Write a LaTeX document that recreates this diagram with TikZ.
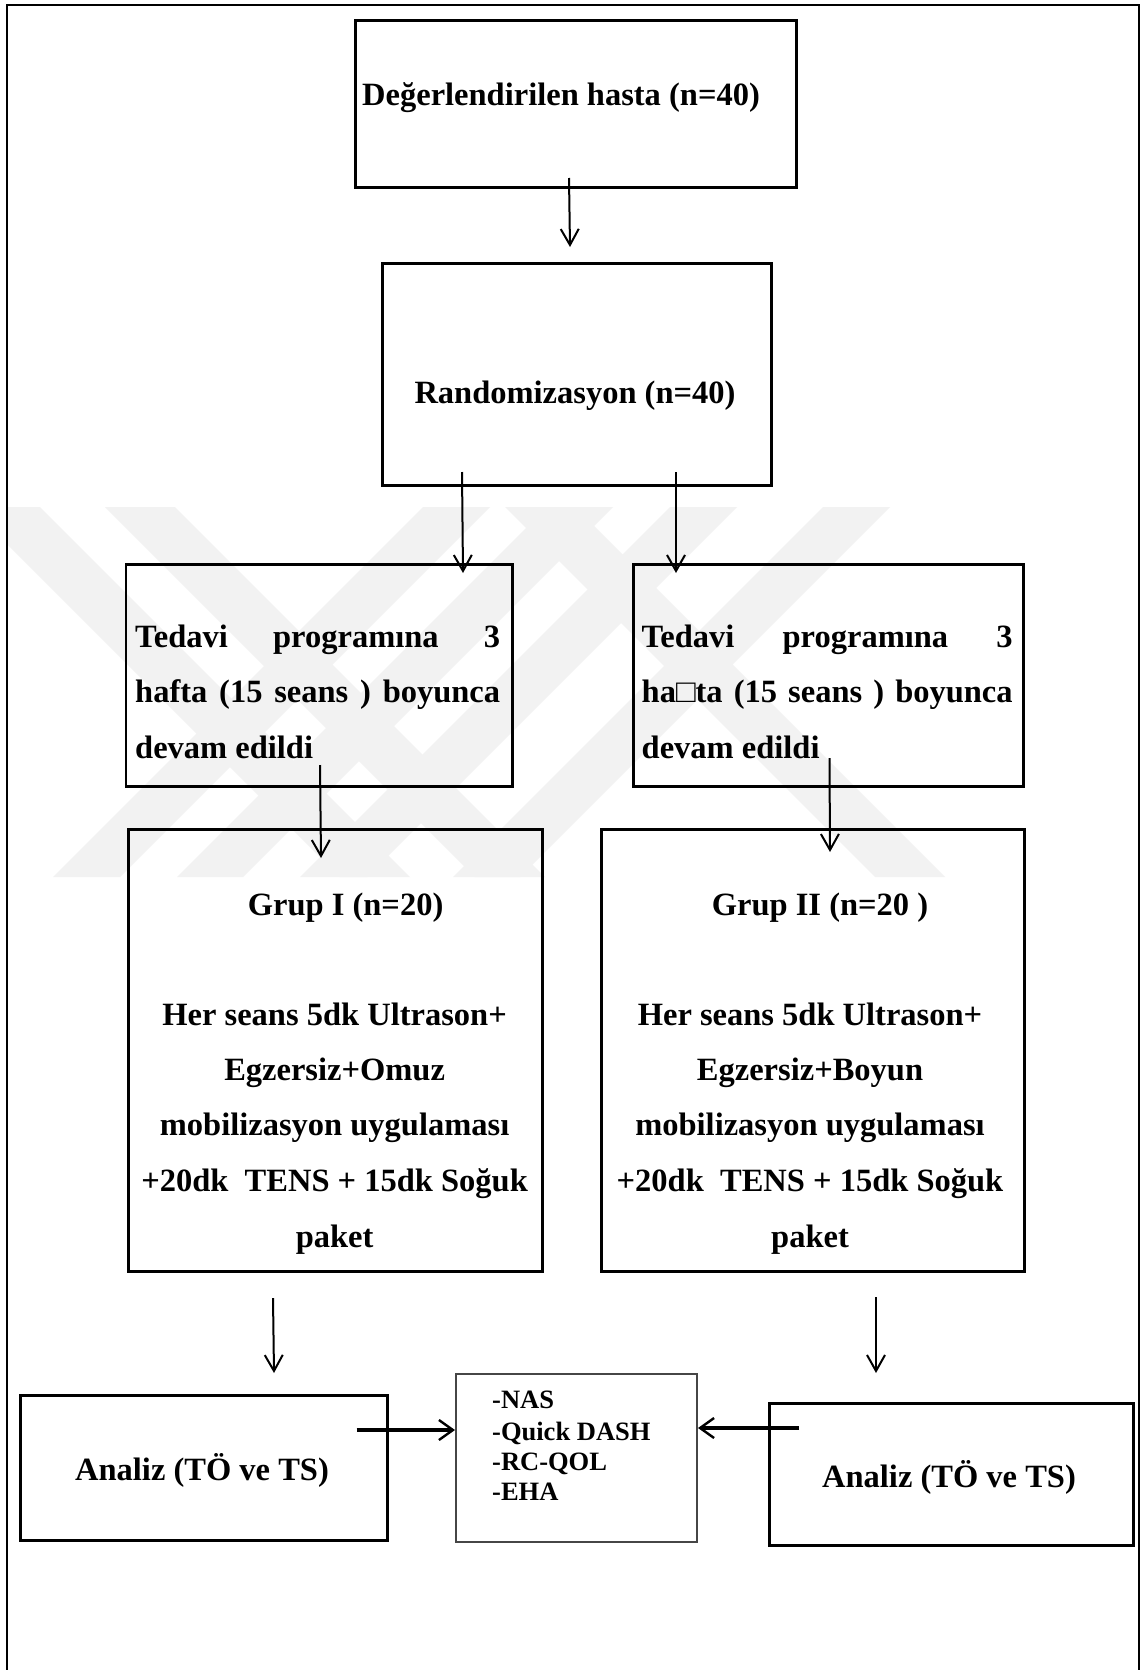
\documentclass[tikz,border=0pt]{standalone}
\usepackage{fontspec}
\setmainfont{Liberation Serif}
\usetikzlibrary{arrows.meta}
\definecolor{wm}{RGB}{242,242,242}
\definecolor{cbox}{RGB}{70,70,70}
\begin{document}
\begin{tikzpicture}[x=1pt,y=-1pt,
  box/.style={draw=black,line width=2.8pt,inner sep=0pt,anchor=north west},
  thinbox/.style={draw=cbox,line width=1.6pt,inner sep=0pt,anchor=north west},
  txt/.style={font=\bfseries\fontsize{32.5}{39}\selectfont,inner sep=0pt,anchor=base},
  ltxt/.style={txt,anchor=base west},
  stxt/.style={font=\bfseries\fontsize{26.5}{30}\selectfont,inner sep=0pt,anchor=base west},
  arr/.style={line width=2pt,-{Straight Barb[length=16pt,width=18pt]}},
  harr/.style={line width=3.6pt,-{Straight Barb[length=14pt,width=20pt,line width=2.4pt]}}]
\useasboundingbox (0,0) rectangle (1143,1670);
\fill[white] (0,0) rectangle (1143,1670);
% watermark
\begin{scope}
\clip (8,507) rectangle (1138,877);
\fill[wm] (-30,507) -- (40,507) -- (410,877) -- (340,877) -- cycle;
\fill[wm] (105,507) -- (175,507) -- (545,877) -- (475,877) -- cycle;
\fill[wm] (505,507) -- (575,507) -- (945,877) -- (875,877) -- cycle;
\fill[wm] (423,507) -- (490,507) -- (120,877) -- (53,877) -- cycle;
\fill[wm] (547,507) -- (613,507) -- (243,877) -- (177,877) -- cycle;
\fill[wm] (670,507) -- (737,507) -- (367,877) -- (300,877) -- cycle;
\fill[wm] (823,507) -- (890,507) -- (520,877) -- (453,877) -- cycle;
\end{scope}
% frame
\draw[line width=2.6pt] (7,1672) -- (7,5) -- (1139,5) -- (1139,1672);
% boxes
\node[box,minimum width=441pt,minimum height=167pt] (b1) at (354,19) {};
\node[box,minimum width=389pt,minimum height=222pt] (b2) at (381,262) {};
\node[box,minimum width=386.5pt,minimum height=222pt] (b3) at (124.5,563) {};
\node[box,minimum width=390pt,minimum height=222pt] (b4) at (632,563) {};
\node[box,minimum width=414pt,minimum height=442pt] (b5) at (127,828) {};
\node[box,minimum width=423pt,minimum height=442pt] (b6) at (600,828) {};
\node[box,minimum width=367pt,minimum height=145pt] (b7) at (19,1394) {};
\node[box,minimum width=364pt,minimum height=142pt] (b8) at (768,1402) {};
\node[thinbox,minimum width=241pt,minimum height=168pt] (bc) at (455,1373) {};
% texts
\node[txt] (t1) at (561,105) {Değerlendirilen hasta (n=40)};
\node[txt] (t2) at (575,403) {Randomizasyon (n=40)};
\node[ltxt] (t3a) at (135,647) {\hbox to 365pt{Tedavi\hfill programına\hfill 3}};
\node[ltxt] (t3b) at (135,702) {\hbox to 365pt{hafta\hfill(15\hfill seans\hfill)\hfill boyunca}};
\node[ltxt] (t3c) at (135,758) {devam edildi};
\node[ltxt] (t4a) at (641.5,647) {\hbox to 371pt{Tedavi\hfill programına\hfill 3}};
\node[ltxt] (t4b) at (641.5,702) {\hbox to 371pt{ha□ta\hfill(15\hfill seans\hfill)\hfill boyunca}};
\node[ltxt] (t4c) at (641.5,758) {devam edildi};
\node[txt] (t5) at (345.6,915) {Grup I (n=20)};
\node[txt] (t5a) at (334.6,1025) {Her seans 5dk Ultrason+};
\node[txt] (t5b) at (334.6,1080) {Egzersiz+Omuz};
\node[txt] (t5c) at (334.6,1135) {mobilizasyon uygulaması};
\node[txt] (t5d) at (334.6,1191) {+20dk\ \ TENS + 15dk Soğuk};
\node[txt] (t5e) at (334.6,1247) {paket};
\node[txt] (t6) at (820,915) {Grup II (n=20 )};
\node[txt] (t6a) at (810,1025) {Her seans 5dk Ultrason+};
\node[txt] (t6b) at (810,1080) {Egzersiz+Boyun};
\node[txt] (t6c) at (810,1135) {mobilizasyon uygulaması};
\node[txt] (t6d) at (810,1191) {+20dk\ \ TENS + 15dk Soğuk};
\node[txt] (t6e) at (810,1247) {paket};
\node[txt] (t7) at (202,1480) {Analiz (TÖ ve TS)};
\node[txt] (t8) at (949,1487) {Analiz (TÖ ve TS)};
\node[stxt] (c1) at (492,1408) {-NAS};
\node[stxt] (c2) at (492,1440) {-Quick DASH};
\node[stxt] (c3) at (492,1470) {-RC-QOL};
\node[stxt] (c4) at (492,1500) {-EHA};
% arrow end points
\coordinate (a1s) at (569,178);   \coordinate (a1e) at (570,247);
\coordinate (a2s) at (462,472);   \coordinate (a2e) at (463,573);
\coordinate (a3s) at (676,472);   \coordinate (a3e) at (676,573);
\coordinate (a4s) at (320,765);   \coordinate (a4e) at (321,858);
\coordinate (a5s) at (829.5,758); \coordinate (a5e) at (830,852);
\coordinate (a6s) at (273,1298);  \coordinate (a6e) at (274,1373);
\coordinate (a7s) at (876,1297);  \coordinate (a7e) at (876,1373);
\coordinate (a8s) at (356.5,1430);\coordinate (a8e) at (455,1430);
\coordinate (a9s) at (799,1428);  \coordinate (a9e) at (698,1428);
\draw[arr] (a1s) -- (a1e);
\draw[arr] (a2s) -- (a2e);
\draw[arr] (a3s) -- (a3e);
\draw[arr] (a4s) -- (a4e);
\draw[arr] (a5s) -- (a5e);
\draw[arr] (a6s) -- (a6e);
\draw[arr] (a7s) -- (a7e);
\draw[harr] (a8s) -- (a8e);
\draw[harr] (a9s) -- (a9e);
\end{tikzpicture}
\end{document}
